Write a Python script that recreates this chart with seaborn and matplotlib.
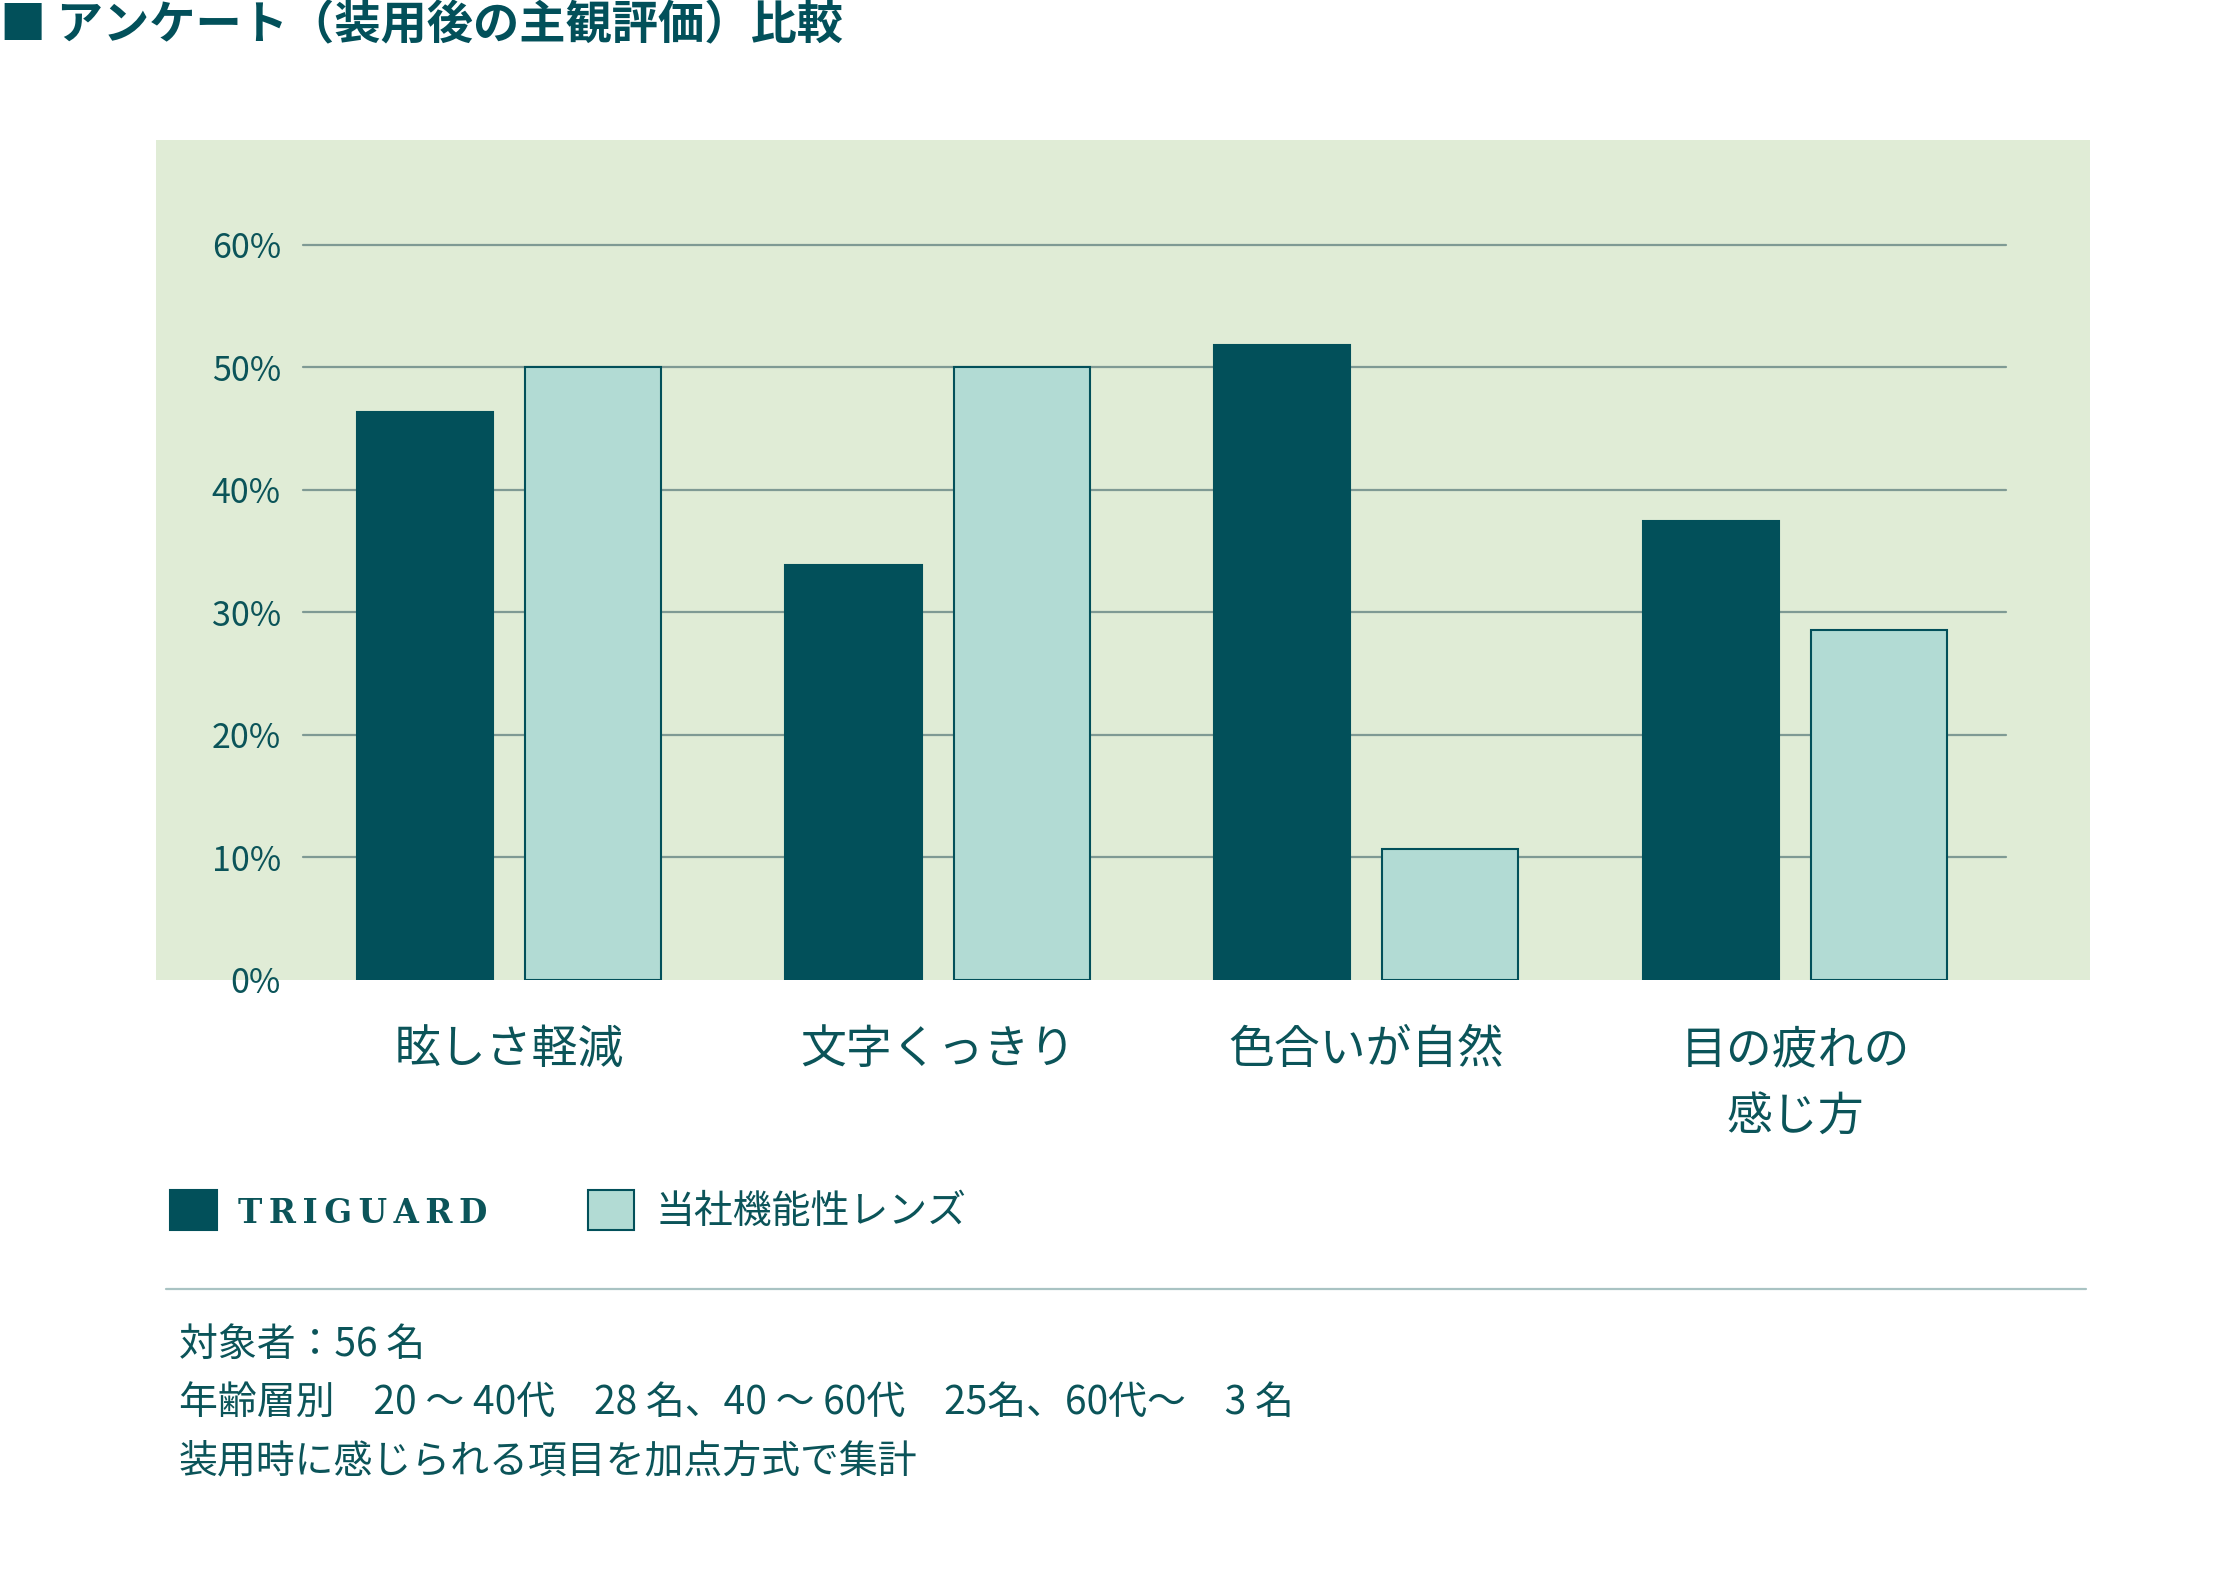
import matplotlib
matplotlib.use("Agg")
import matplotlib.pyplot as plt
import seaborn as sns
import pandas as pd
from matplotlib.lines import Line2D

# ---------------- data ----------------
categories = ["眩しさ軽減", "文字くっきり", "色合いが自然", "目の疲れの\n感じ方"]
series_names = ["TRIGUARD", "当社機能性レンズ"]
triguard = [46.4, 33.9, 51.8, 37.5]
company_lens = [50.0, 50.0, 10.7, 28.6]
ytick_values = [0, 10, 20, 30, 40, 50, 60]
ytick_labels = ["0%", "10%", "20%", "30%", "40%", "50%", "60%"]
title = "■ アンケート（装用後の主観評価）比較"
notes = [
    "対象者：56 名",
    "年齢層別　20 ～ 40代　28 名、40 ～ 60代　25名、60代～　3 名",
    "装用時に感じられる項目を加点方式で集計",
]

# ---------------- style ----------------
DARK = "#02505a"
LIGHT = "#b2dbd4"
PANEL = "#e0ecd6"
GRID = "#7f9a94"
TEXT = "#0b5459"
W, H = 2224, 1582

sns.set_theme(style="white")
plt.rcParams["font.family"] = ["Noto Sans CJK JP", "DejaVu Sans"]

df = pd.DataFrame({
    "category": categories * 2,
    "series": [series_names[0]] * len(categories) + [series_names[1]] * len(categories),
    "value": triguard + company_lens,
})

fig = plt.figure(figsize=(W / 100, H / 100), dpi=100)
ax = fig.add_axes([156 / W, 1 - 980 / H, 1934 / W, 840 / H])
ax.set_facecolor(PANEL)

for v in ytick_values[1:]:
    ax.axhline(v, xmin=0.076, xmax=0.9566, color=GRID, lw=1.6, zorder=1)

sns.barplot(data=df, x="category", y="value", hue="series",
            order=categories, hue_order=series_names,
            palette=[DARK, LIGHT], saturation=1,
            width=0.784, gap=0.19, edgecolor=DARK, linewidth=1.5,
            ax=ax, zorder=3)

ax.set_xlim(-0.823, 3.688)
ax.set_ylim(0, 68.57)
for s in ax.spines.values():
    s.set_visible(False)
ax.set_xlabel("")
ax.set_ylabel("")

ax.set_yticks(ytick_values, ytick_labels)
ax.tick_params(axis="y", length=0, pad=-90, labelsize=24.5, labelcolor=TEXT)
ax.tick_params(axis="x", length=0, pad=33, labelsize=33, labelcolor=TEXT)
for lbl in ax.get_xticklabels():
    lbl.set_linespacing(1.5)

# legend
handles, labels = ax.get_legend_handles_labels()
if ax.get_legend() is not None:
    ax.get_legend().remove()
leg = fig.legend(handles, labels, loc="upper left",
                 bbox_to_anchor=(170 / W, 1 - 1190 / H), ncol=2, frameon=False,
                 fontsize=28, handlelength=1.2, handleheight=1.2,
                 handletextpad=0.55, columnspacing=2.58, borderpad=0,
                 borderaxespad=0, labelcolor=TEXT)
t0 = leg.get_texts()[0]
t0.set_text("\u2009".join(series_names[0]))
t0.set_fontfamily(["DejaVu Serif"])
t0.set_fontweight("bold")
t0.set_fontsize(23.5)

# divider line
fig.add_artist(Line2D([166 / W, 2086 / W], [1 - 1289 / H] * 2, color="#a9c3c3", lw=1.6))

# notes
for i, line in enumerate(notes):
    fig.text(179 / W, 1 - (1345 + 58 * i) / H, line, va="center", ha="left",
             fontsize=28, color=TEXT)

# title
fig.text(0, 1 - 25 / H, title, va="center", ha="left", fontsize=33.3,
         fontweight="bold", color=DARK)

fig.savefig("out.png", dpi=100, facecolor="white")
